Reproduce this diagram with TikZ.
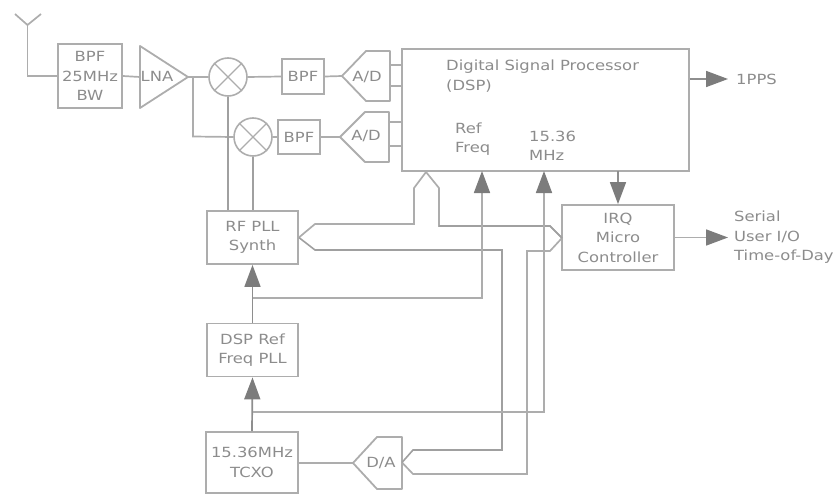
\documentclass[tikz,border=0pt]{standalone}
\usepackage{fontspec}
\setmainfont[FakeStretch=1.17]{DejaVu Sans}
\usetikzlibrary{arrows.meta}
\definecolor{ln}{HTML}{ADADAD}
\definecolor{lnd}{HTML}{A0A0A0}
\definecolor{lnk}{HTML}{8E8E8E}
\definecolor{hd}{HTML}{7C7C7C}
\definecolor{tx}{HTML}{8C8C8C}
\tikzset{
  wire/.style={draw=ln,line width=1.7pt,line join=miter},
  wired/.style={draw=lnd,line width=1.6pt},
  sig/.style={draw=ln,line width=1.7pt,-{Triangle[length=22pt,width=16pt,color=hd]}},
  sigk/.style={sig,draw=lnk},
  block/.style={draw=ln,line width=1.8pt,inner sep=0pt,align=center,text=tx,font=\fontsize{14}{19.5}\selectfont},
  mixer/.style={circle,draw=ln,line width=1.6pt,minimum size=38pt,inner sep=0pt},
  conv/.style={draw=ln,line width=1.8pt,line join=round},
  lab/.style={inner sep=0pt,text=tx,align=left,anchor=west,font=\fontsize{14}{19.5}\selectfont},
  inlab/.style={inner sep=0pt,text=tx,font=\fontsize{14}{16}\selectfont}
}
\begin{document}
\begin{tikzpicture}[x=1pt,y=-1pt]
\useasboundingbox (0,0) rectangle (839,495);
% blocks
\node[block,minimum width=64pt,minimum height=64pt] (bpfa) at (90,76) {BPF\\25MHz\\BW};
\node[block,minimum width=42pt,minimum height=35pt] (bpfb) at (303,76.5) {BPF};
\node[block,minimum width=42pt,minimum height=34pt] (bpfc) at (299,137) {BPF};
\node[block,minimum width=287pt,minimum height=122pt] (dsp) at (545.5,110) {};
\node[block,minimum width=112pt,minimum height=65pt] (irq) at (618,237.5) {IRQ\\Micro\\Controller};
\node[block,minimum width=91pt,minimum height=53pt] (rf) at (252.5,237.5) {RF PLL\\Synth};
\node[block,minimum width=91pt,minimum height=53pt] (pll) at (252.5,350) {DSP Ref\\Freq PLL};
\node[block,minimum width=92pt,minimum height=61pt] (tcxo) at (252,462.5) {15.36MHz\\TCXO};
\node[mixer] (mxa) at (228,77) {};
\node[mixer] (mxb) at (253,137) {};
\draw[draw=ln,line width=1.4pt] (mxa.45)--(mxa.225) (mxa.135)--(mxa.315) (mxb.45)--(mxb.225) (mxb.135)--(mxb.315);
% LNA
\coordinate (lnaw) at (140,77);
\coordinate (lnae) at (188,77);
\draw[conv] (140,46)--(lnae)--(140,108)--cycle;
\node[inlab] (lna) at (157,76) {LNA};
% converters
\coordinate (adat) at (342,76);
\draw[conv] (adat)--(366,51)--(390,51)--(390,101)--(366,101)--cycle;
\node[inlab] (ada) at (367,77) {A/D};
\coordinate (adbt) at (340,137);
\draw[conv] (adbt)--(365,112)--(389,112)--(389,162)--(365,162)--cycle;
\node[inlab] (adb) at (366,136) {A/D};
\coordinate (dat) at (353,463);
\coordinate (dae) at (402,462.5);
\draw[conv] (dat)--(377,437)--(402,437)--(402,489)--(377,489)--cycle;
\node[inlab] (da) at (381,463) {D/A};
% antenna
\coordinate (anl) at (15,14);
\coordinate (anr) at (41,14);
\coordinate (anc) at (27.5,25);
\draw[wire] (anl)--(anc)--(anr);
\draw[wire] (anc)--(27.5,76)--(bpfa.west);
% RF chain
\draw[wire] (bpfa.east)--(lnaw);
\draw[wire] (lnae)--(mxa.west);
\draw[wire] (193,77)--(193,136.5)--(mxb.west);
\draw[wire] (mxa.east)--(bpfb.west);
\draw[wire] (bpfb.east)--(adat);
\draw[wire] (mxb.east)--(bpfc.west);
\draw[wire] (bpfc.east)--(adbt);
\draw[wire] (390,65)--(402,65) (390,86)--(402,86) (389,122)--(402,122) (389,146)--(402,146);
\draw[wired] (mxa.south)--(mxa.south |- rf.north);
\draw[wired] (mxb.south)--(mxb.south |- rf.north);
% bus
\coordinate (bt) at (426,172);
\coordinate (irqw) at (562,238);
\draw[wire] (rf.east)--(315,224)--(414,224)--(414,188)--(bt)--(439,188)--(439,226)--(550,226)--(irqw)--(550,251)--(527,251)--(527,474)--(413,474)--(dae);
\draw[wired] (rf.east)--(315,250)--(502,250)--(502,450)--(413,450)--(dae);
\draw[wired] (439,226)--(550,226)--(irqw);
% clocks
\coordinate (refn) at (482,171);
\coordinate (clkn) at (544,171);
\draw[sigk] (tcxo.north)--(pll.south);
\draw[sigk] (pll.north)--(rf.south);
\draw[sig] (252.5,298)--(482,298)--(refn);
\draw[sig] (252.5,412)--(544,412)--(clkn);
\draw[wire] (tcxo.east |- dat)--(dat);
% outputs
\coordinate (ppsp) at (728,79);
\coordinate (serp) at (728,237.5);
\coordinate (dspb) at (618,171);
\draw[sigk] (dsp.east |- ppsp)--(ppsp);
\draw[sig] (irq.east)--(serp);
\draw[sigk] (dspb)--(irq.north);
% labels
\node[lab] (t1) at (446,76) {Digital Signal Processor\\(DSP)};
\node[lab] (t2) at (455,139) {Ref\\Freq};
\node[lab] (t3) at (529,146) {15.36\\MHz};
\node[lab] (t4) at (736,79) {1PPS};
\node[lab] (t5) at (734,237.5) {Serial\\User I/O\\Time-of-Day};
\end{tikzpicture}
\end{document}
